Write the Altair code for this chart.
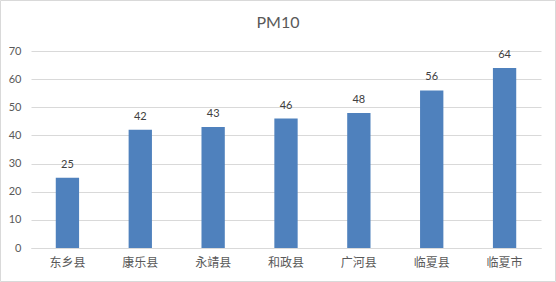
import altair as alt
import pandas as pd

categories = ["东乡县", "康乐县", "永靖县", "和政县", "广河县", "临夏县", "临夏市"]
values = [25, 42, 43, 46, 48, 56, 64]
y_ticks = [0, 10, 20, 30, 40, 50, 60, 70]

df = pd.DataFrame({"county": categories, "pm10": values})

x_enc = alt.X(
    "county:N",
    sort=categories,
    scale=alt.Scale(paddingInner=0.68, paddingOuter=0.34),
    axis=alt.Axis(
        title=None, labelAngle=0, ticks=False, domainColor="#d9d9d9",
        labelFont="Noto Sans CJK SC", labelFontSize=12, labelColor="#595959",
        labelPadding=9,
    ),
)
y_enc = alt.Y(
    "pm10:Q",
    scale=alt.Scale(domain=[0, 70]),
    axis=alt.Axis(
        title=None, values=y_ticks, ticks=False, domain=False,
        grid=True, gridColor="#d9d9d9", labelFont="Lato", labelFontSize=11,
        labelColor="#595959", labelPadding=10,
    ),
)

base = alt.Chart(df).encode(x=x_enc, y=y_enc)
bars = base.mark_bar(color="#4f81bd")
labels = base.mark_text(
    dy=-13, font="Lato", fontSize=11, color="#404040"
).encode(text="pm10:Q")

border = alt.Chart(df.head(1)).mark_rect(
    fill=None, stroke="#d9d9d9", strokeWidth=1, clip=False
).encode(
    x=alt.value(-30.5), x2=alt.value(524.5), y=alt.value(-50.5), y2=alt.value(230.5)
)

title = alt.Chart(df.head(1)).mark_text(
    font="Lato", fontSize=16, color="#595959", clip=False
).encode(x=alt.value(247), y=alt.value(-28), text=alt.value("PM10"))

chart = alt.layer(border, bars, labels, title).properties(
    width=510, height=197,
    autosize=alt.AutoSizeParams(type="none"),
    padding={"left": 31, "top": 51, "right": 15, "bottom": 34},
    background="white",
).configure_view(stroke=None)

chart.save("out.html", embed_options={"renderer": "svg", "actions": False})
